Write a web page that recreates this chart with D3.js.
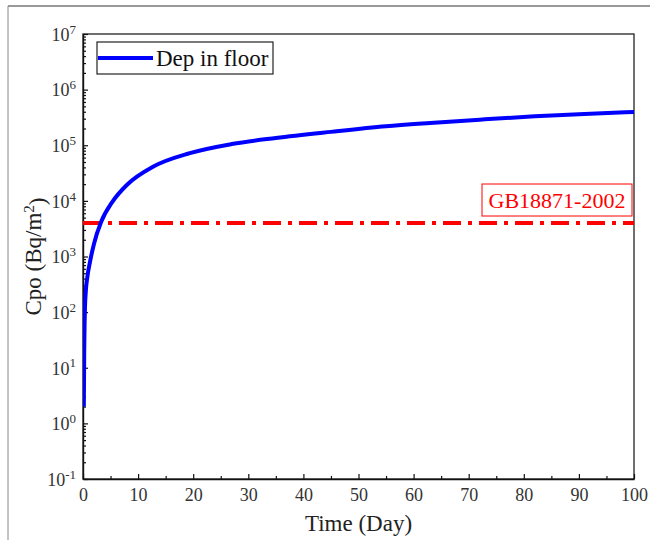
<!DOCTYPE html>
<html>
<head>
<meta charset="utf-8">
<script src="https://cdn.jsdelivr.net/npm/d3@7"></script>
<style>
  body { margin: 0; background: #fff; }
  text { font-family: "Liberation Serif", "Times New Roman", serif; }
</style>
</head>
<body>
<svg id="chart" width="650" height="540"></svg>
<script>
// values
const days = [0.15, 0.22, 0.3, 0.36, 0.5, 0.78, 1.27, 2, 3.3, 5.3, 8, 12.7, 19.4, 27, 35, 45, 55, 63, 72, 82, 91, 100];
const cpo = [2, 20, 70, 123, 230, 420, 800, 1700, 4200, 9500, 19500, 41000, 72000, 105000, 135000, 174000, 219000, 251000, 288000, 331000, 363000, 398000];
const seriesName = "Dep in floor";
const limitValue = 4000;
const limitLabel = "GB18871-2002";
const xTicks = [0, 10, 20, 30, 40, 50, 60, 70, 80, 90, 100];
const xMinorTicks = [5, 15, 25, 35, 45, 55, 65, 75, 85, 95];
const yExponents = [-1, 0, 1, 2, 3, 4, 5, 6, 7];

const svg = d3.select("#chart");
const margin = { left: 83, top: 34, right: 16, bottom: 61 };
const width = 650 - margin.left - margin.right;
const height = 540 - margin.top - margin.bottom;

// outer frame of the figure
svg.append("line").attr("x1", 8).attr("x2", 650).attr("y1", 6).attr("y2", 6)
    .attr("stroke", "#777").attr("stroke-width", 1.5);
svg.append("line").attr("x1", 8).attr("x2", 8).attr("y1", 6).attr("y2", 540)
    .attr("stroke", "#888").attr("stroke-width", 1);

const g = svg.append("g").attr("transform", "translate(" + margin.left + "," + margin.top + ")");

const x = d3.scaleLinear().domain([0, 100]).range([0, width]);
const y = d3.scaleLog().domain([0.1, 1e7]).range([height, 0]);

const yMinor = [];
yExponents.slice(0, -1).forEach(e => {
    for (let k = 2; k <= 9; k++) yMinor.push(k * Math.pow(10, e));
});

g.append("defs").append("clipPath").attr("id", "clip")
    .append("rect").attr("width", width).attr("height", height);

// plot frame
g.append("rect").attr("width", width).attr("height", height)
    .attr("fill", "none").attr("stroke", "#222").attr("stroke-width", 1.3);

// x axis
const xAxis = g.append("g").attr("transform", "translate(0," + height + ")")
    .call(d3.axisBottom(x).tickValues(xTicks).tickSize(-5).tickSizeOuter(0).tickPadding(9));
g.append("g").attr("transform", "translate(0," + height + ")")
    .call(d3.axisBottom(x).tickValues(xMinorTicks).tickSize(-3).tickSizeOuter(0).tickFormat(""))
    .select(".domain").remove();

// y axis
const yAxis = g.append("g")
    .call(d3.axisLeft(y).tickValues(yExponents.map(e => Math.pow(10, e))).tickSize(-5).tickSizeOuter(0).tickPadding(7));
g.append("g")
    .call(d3.axisLeft(y).tickValues(yMinor).tickSize(-3).tickSizeOuter(0).tickFormat(""))
    .select(".domain").remove();

yAxis.selectAll(".tick text").each(function(d) {
    const t = d3.select(this);
    const e = Math.round(Math.log10(d));
    t.text(null).attr("dy", "0.35em");
    t.append("tspan").text("10");
    t.append("tspan").attr("dy", "-0.55em").attr("font-size", 13).text(e);
});

[xAxis, yAxis].forEach(a => {
    a.selectAll(".domain, .tick line").attr("stroke", "#111").attr("stroke-width", 1.4);
    a.selectAll("text").attr("font-size", 18).attr("fill", "#333");
});
g.selectAll(".tick line").attr("stroke", "#111").attr("stroke-width", 1.2);

// limit line
g.append("line")
    .attr("x1", 0).attr("x2", width)
    .attr("y1", y(limitValue)).attr("y2", y(limitValue))
    .attr("stroke", "#ff0000").attr("stroke-width", 4)
    .attr("stroke-dasharray", "18,7,4,7");

const limitBox = g.append("g").attr("transform", "translate(" + (width - 2) + "," + (y(limitValue) - 7) + ")");
limitBox.append("rect")
    .attr("x", -150).attr("y", -32).attr("width", 150).attr("height", 32)
    .attr("fill", "#fff").attr("stroke", "#ff0000").attr("stroke-width", 1);
limitBox.append("text")
    .attr("x", -75).attr("y", -8)
    .attr("text-anchor", "middle").attr("font-size", 22).attr("fill", "#ff0000")
    .text(limitLabel);

// curve
const line = d3.line()
    .x((d, i) => x(days[i]))
    .y(d => y(d))
    .curve(d3.curveMonotoneX);

g.append("path")
    .datum(cpo)
    .attr("clip-path", "url(#clip)")
    .attr("fill", "none")
    .attr("stroke", "#0000ff")
    .attr("stroke-width", 4)
    .attr("d", line);

// legend
const legend = g.append("g").attr("transform", "translate(14,8)");
legend.append("rect").attr("width", 176).attr("height", 32)
    .attr("fill", "#fff").attr("stroke", "#222").attr("stroke-width", 1.2);
legend.append("line").attr("x1", 1).attr("x2", 56).attr("y1", 16).attr("y2", 16)
    .attr("stroke", "#0000ff").attr("stroke-width", 4);
legend.append("text").attr("x", 59).attr("y", 24)
    .attr("font-size", 23).attr("fill", "#111").text(seriesName);

// axis titles
svg.append("text")
    .attr("x", margin.left + width / 2).attr("y", 531)
    .attr("text-anchor", "middle").attr("font-size", 23).attr("fill", "#222")
    .text("Time (Day)");

const yTitle = svg.append("text")
    .attr("transform", "translate(41," + (margin.top + height / 2) + ") rotate(-90)")
    .attr("text-anchor", "middle").attr("font-size", 23).attr("fill", "#222");
yTitle.append("tspan").text("Cpo (Bq/m");
yTitle.append("tspan").attr("dy", "-0.45em").attr("font-size", 15).text("2");
yTitle.append("tspan").attr("dy", "0.45em").text(")");
</script>
</body>
</html>
